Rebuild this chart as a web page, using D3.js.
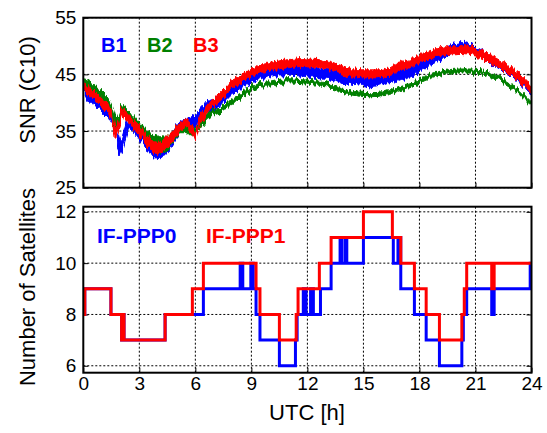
<!DOCTYPE html>
<html>
<head>
<meta charset="utf-8">
<script src="https://cdn.jsdelivr.net/npm/d3@7"></script>
<style>
  html, body { margin: 0; padding: 0; background: #fff; }
  svg { display: block; font-family: "Liberation Sans", Arial, sans-serif; }
</style>
</head>
<body>
<svg id="chart" width="547" height="433"></svg>
<script>
// ---- SNR panel: hour grid and per-frequency SNR (dB-Hz), with noise half-widths ----
const snrHours = [0,0.5,1,1.4,1.55,1.7,1.85,2,2.1,2.4,2.7,3,3.4,3.75,4.1,4.45,4.8,5.15,5.5,5.85,6,6.25,6.6,6.95,7.3,7.65,8,8.4,9,9.6,10.3,11,11.7,12.1,12.65,13.2,13.7,14.25,14.8,15.35,15.9,16.4,16.9,17.5,18,18.55,19.1,19.65,20.2,20.7,21.25,21.8,22.3,22.85,23.4,23.9,24];

const snrB1 = [42.0,40.8,39.6,38.2,37.6,36.4,33.5,32.0,33.0,36.4,36.0,34.6,33.0,31.8,31.6,32.3,33.8,35.9,36.1,36.6,36.8,37.7,39.2,39.6,40.5,41.4,42.6,43.4,44.3,45.2,45.8,45.8,45.6,45.4,45.1,45.0,44.6,44.3,44.0,43.7,44.0,44.3,44.9,45.3,46.2,47.4,48.3,49.5,50.0,49.5,48.8,47.5,46.6,45.4,44.2,42.4,42.0];
const snrB2 = [43.5,42.4,41.0,39.6,38.5,36.5,36.5,38.0,38.6,37.8,36.5,35.5,34.0,32.8,32.5,32.6,34.0,35.6,35.6,35.0,35.0,35.9,37.4,38.3,38.6,39.4,40.2,41.1,42.4,43.2,43.7,43.9,43.7,43.6,43.4,43.0,42.4,41.8,41.5,41.4,41.5,41.8,42.4,43.0,43.8,44.6,45.2,45.5,45.6,45.6,45.5,45.0,44.2,43.0,41.8,40.1,39.8];
const snrB3 = [42.8,41.6,40.0,38.9,37.5,34.6,35.5,37.3,38.3,37.4,36.1,35.0,33.5,32.1,32.0,32.9,34.1,35.8,36.4,35.0,33.8,36.8,38.6,40.0,40.9,42.1,43.5,44.1,45.2,46.1,46.6,46.9,47.1,47.0,46.9,46.6,46.0,45.4,45.1,45.1,45.1,45.4,46.4,46.9,47.7,48.6,49.0,49.3,49.4,49.3,48.6,47.7,46.8,45.6,44.5,42.7,42.4];

const spreadB1 = [1.0,1.0,1.0,1.0,1.0,1.1,1.2,1.0,1.2,1.0,1.0,1.0,1.2,1.5,1.5,1.4,1.2,1.0,1.0,1.0,1.0,1.0,1.0,1.0,1.0,1.0,1.0,1.0,0.9,0.9,0.9,0.9,0.9,0.9,0.9,0.9,0.9,0.9,0.9,0.9,0.9,0.9,0.9,0.9,0.8,0.8,0.8,0.8,0.8,0.8,0.65,0.65,0.65,0.65,0.65,0.65,0.65];
const spreadB2 = [0.9,0.9,0.9,0.9,0.9,0.9,0.9,0.9,0.9,0.9,0.9,0.9,1.1,1.5,1.5,1.3,1.0,0.9,0.9,0.8,0.6,0.5,0.45,0.45,0.45,0.45,0.45,0.45,0.38,0.35,0.35,0.35,0.35,0.35,0.35,0.35,0.35,0.35,0.35,0.35,0.35,0.35,0.35,0.35,0.35,0.35,0.35,0.35,0.35,0.35,0.35,0.35,0.35,0.35,0.35,0.35,0.35];
const spreadB3 = [0.7,0.7,0.7,0.7,0.7,0.8,0.8,0.7,0.7,0.7,0.7,0.8,0.9,1.0,1.0,1.0,0.9,0.8,0.7,0.7,0.7,0.7,0.7,0.7,0.7,0.7,0.7,0.7,0.7,0.7,0.7,0.7,0.7,0.7,0.7,0.7,0.7,0.7,0.7,0.7,0.7,0.7,0.7,0.7,0.7,0.7,0.7,0.7,0.7,0.7,0.7,0.7,0.7,0.7,0.7,0.7,0.7];

// ---- Satellite count panel: step change times (h) and counts ----
const ppp0Hours = [0,0.08,1.48,2.05,2.1,2.18,4.38,6.43,8.4,8.54,8.97,9.1,9.25,9.46,10.5,11.36,11.45,11.78,11.93,12.17,12.32,12.7,13.27,13.75,13.84,14.02,14.11,15.0,16.6,16.85,17.0,17.73,18.36,19.07,20.27,20.35,20.53,21.87,22.0,23.93,24];
const ppp0Sats  = [8,9,8,7,8,7,8,9,10,9,10,9,8,7,6,7,8,9,8,9,8,9,10,11,10,11,10,11,10,11,9,8,7,6,7,8,9,8,9,10,10];
const ppp1Hours = [0,0.08,1.48,2.05,2.1,2.18,4.38,5.84,6.43,9.25,9.46,10.5,11.4,11.5,12.64,13.27,15.0,16.55,17.0,17.73,18.36,19.07,20.27,20.4,20.53,21.87,22.0,24];
const ppp1Sats  = [8,9,8,7,8,7,8,9,10,9,8,7,8,9,10,11,12,11,10,9,8,7,8,9,10,9,10,10];

// ---- Axis ticks ----
const hourTicks = [0,3,6,9,12,15,18,21,24];
const snrTicks = [25,35,45,55];
const satTicks = [6,8,10,12];

const colors = { b1: "#0000ff", b2: "#008000", b3: "#ff0000" };

const svg = d3.select("#chart");

const x = d3.scaleLinear().domain([0, 24]).range([83.3, 531.5]);
const ySnr = d3.scaleLinear().domain([25, 55]).range([187.7, 17.7]);
const ySat = d3.scaleLinear().domain([5.73, 12.2]).range([372.7, 206.7]);

function panelFrame(y, ticks, tickFmt) {
  const g = svg.append("g");
  const [y0, y1] = y.range();
  // dotted grid
  g.selectAll(".vg").data(hourTicks.slice(1, -1)).join("line")
    .attr("x1", d => x(d)).attr("x2", d => x(d))
    .attr("y1", y1).attr("y2", y0)
    .attr("stroke", "#000").attr("stroke-width", 1).attr("stroke-dasharray", "2,2");
  g.selectAll(".hg").data(ticks).join("line")
    .attr("x1", x(0)).attr("x2", x(24))
    .attr("y1", d => y(d)).attr("y2", d => y(d))
    .attr("stroke", "#000").attr("stroke-width", 1).attr("stroke-dasharray", "2,2");
  // inward ticks on both sides
  const axL = d3.axisLeft(y).tickValues(ticks).tickSize(-5).tickFormat(tickFmt).tickPadding(7);
  const axR = d3.axisRight(y).tickValues(ticks).tickSize(-5).tickFormat("");
  const gl = svg.append("g").attr("transform", `translate(${x(0)},0)`).call(axL);
  const gr = svg.append("g").attr("transform", `translate(${x(24)},0)`).call(axR);
  [gl, gr].forEach(a => {
    a.select(".domain").remove();
    a.selectAll(".tick line").attr("stroke", "#000").attr("stroke-width", 1);
  });
  gl.selectAll(".tick text").attr("font-size", 19).attr("fill", "#000")
    .attr("font-family", "'Liberation Sans', Arial, sans-serif");
  return g;
}

function drawBorder(y) {
  const [y0, y1] = y.range();
  svg.append("rect")
    .attr("x", x(0)).attr("y", y1)
    .attr("width", x(24) - x(0)).attr("height", y0 - y1)
    .attr("fill", "none").attr("stroke", "#000").attr("stroke-width", 2);
}

function xAxisTicks(y, withLabels) {
  const [y0] = y.range();
  const ax = d3.axisBottom(x).tickValues(hourTicks).tickSize(-5)
    .tickFormat(withLabels ? d3.format("d") : "").tickPadding(4);
  const g = svg.append("g").attr("transform", `translate(0,${y0})`).call(ax);
  g.select(".domain").remove();
  g.selectAll(".tick line").attr("stroke", "#000");
  g.selectAll(".tick text").attr("font-size", 19).attr("fill", "#000")
    .attr("font-family", "'Liberation Sans', Arial, sans-serif");
}

// ---- SNR panel ----
panelFrame(ySnr, snrTicks, d3.format("d"));
xAxisTicks(ySnr, false);

const defs = svg.append("defs");
defs.append("clipPath").attr("id", "clipSnr").append("rect")
  .attr("x", x(0)).attr("y", ySnr(55)).attr("width", x(24) - x(0)).attr("height", ySnr(25) - ySnr(55));

// jagged edges for the noisy per-epoch SNR samples
const jitter = defs.append("filter").attr("id", "jitter")
  .attr("filterUnits", "userSpaceOnUse")
  .attr("x", 60).attr("y", 0).attr("width", 500).attr("height", 200);
jitter.append("feTurbulence").attr("type", "fractalNoise")
  .attr("baseFrequency", "0.45 0.03").attr("numOctaves", 2).attr("seed", 5).attr("result", "t");
jitter.append("feDisplacementMap").attr("in", "SourceGraphic").attr("in2", "t")
  .attr("scale", 8).attr("xChannelSelector", "B").attr("yChannelSelector", "G");

const bandG = svg.append("g").attr("clip-path", "url(#clipSnr)");
function band(vals, spread, color) {
  const rows = snrHours.map((h, i) => ({ h, lo: vals[i] - spread[i], hi: vals[i] + spread[i] }));
  const area = d3.area().x(d => x(d.h)).y0(d => ySnr(d.lo)).y1(d => ySnr(d.hi));
  bandG.append("g").attr("filter", "url(#jitter)")
    .append("path").datum(rows).attr("d", area)
    .attr("fill", color).attr("stroke", color).attr("stroke-width", 1);
}
band(snrB1, spreadB1, colors.b1);
band(snrB2, spreadB2, colors.b2);
band(snrB3, spreadB3, colors.b3);
drawBorder(ySnr);

[["B1", 101, colors.b1], ["B2", 147, colors.b2], ["B3", 193, colors.b3]].forEach(([t, px, c]) => {
  svg.append("text").attr("x", px).attr("y", 52).text(t)
    .attr("font-size", 20).attr("font-weight", "bold").attr("fill", c);
});

// ---- Satellite panel ----
panelFrame(ySat, satTicks, d3.format("d"));
xAxisTicks(ySat, true);

const step = d3.line().curve(d3.curveStepAfter).x(d => x(d[0])).y(d => ySat(d[1]));
svg.append("path").datum(d3.zip(ppp0Hours, ppp0Sats)).attr("d", step)
  .attr("fill", "none").attr("stroke", colors.b1).attr("stroke-width", 3);
svg.append("path").datum(d3.zip(ppp1Hours, ppp1Sats)).attr("d", step)
  .attr("fill", "none").attr("stroke", colors.b3).attr("stroke-width", 3);
drawBorder(ySat);

svg.append("text").attr("x", 97).attr("y", 243).text("IF-PPP0")
  .attr("font-size", 21).attr("font-weight", "bold").attr("fill", colors.b1);
svg.append("text").attr("x", 206).attr("y", 243).text("IF-PPP1")
  .attr("font-size", 21).attr("font-weight", "bold").attr("fill", colors.b3);

// ---- Axis titles ----
svg.append("text").attr("transform", "translate(35,90) rotate(-90)")
  .attr("text-anchor", "middle").attr("font-size", 22).text("SNR (C10)");
svg.append("text").attr("transform", "translate(35,287) rotate(-90)")
  .attr("text-anchor", "middle").attr("font-size", 22).text("Number of Satellites");
svg.append("text").attr("x", 307).attr("y", 420)
  .attr("text-anchor", "middle").attr("font-size", 22).text("UTC [h]");
</script>
</body>
</html>
